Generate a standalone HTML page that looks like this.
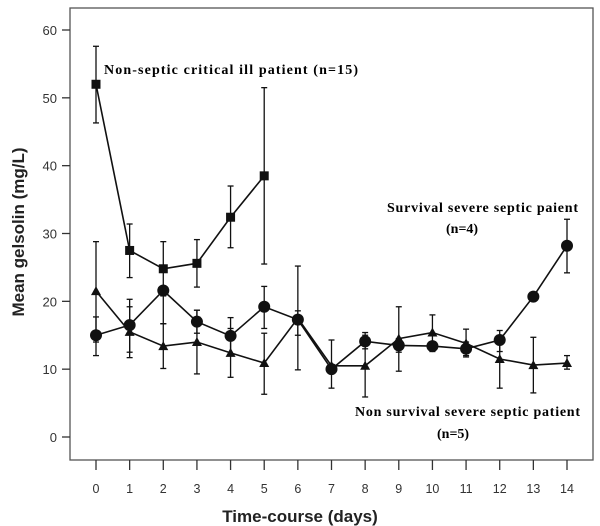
<!DOCTYPE html>
<html><head><meta charset="utf-8"><style>
body{margin:0;background:#fff;}
svg{display:block;font-family:"Liberation Sans",sans-serif;}
.ann{font-family:"Liberation Serif",serif;font-weight:bold;font-size:14px;}
</style></head><body>
<svg id="chart" width="600" height="526">
<rect x="70" y="8" width="523" height="452" fill="none" stroke="#555" stroke-width="1.3"/>
<g id="axes"></g><g id="series"></g>
<text x="300" y="522" text-anchor="middle" font-size="17" font-weight="bold" fill="#222">Time-course (days)</text>
<text transform="translate(24,232) rotate(-90)" text-anchor="middle" font-size="17" font-weight="bold" fill="#222">Mean gelsolin (mg/L)</text>
<text class="ann" x="104" y="74" textLength="254" lengthAdjust="spacing">Non-septic critical ill patient   (n=15)</text>
<text class="ann" x="387" y="212" textLength="191" lengthAdjust="spacing">Survival severe septic paient</text>
<text class="ann" x="446" y="233">(n=4)</text>
<text class="ann" x="355" y="416" textLength="225" lengthAdjust="spacing">Non survival severe septic patient</text>
<text class="ann" x="437" y="438">(n=5)</text>
</svg>
<script>
const days=[0,1,2,3,4,5,6,7,8,9,10,11,12,13,14];
const yTicks=[0,10,20,30,40,50,60];
const sqMean=[52,27.5,24.8,25.6,32.4,38.5];
const sqLow=[46.3,23.5,20.8,22.1,27.9,25.5];
const sqHigh=[57.6,31.4,28.8,29.1,37,51.5];
const ciMean=[15,16.5,21.6,17,14.9,19.2,17.3,10,14.1,13.5,13.4,13,14.3,20.7,28.2];
const ciLow=[12,12.5,16.7,15.3,12,16,15,null,13,12.5,12.6,12,12.6,null,24.2];
const ciHigh=[17.7,20.3,21.6,18.7,17.6,22.2,18.6,null,15,14.5,14,14,15.7,null,32.1];
const trMean=[21.5,15.5,13.4,14,12.4,10.9,17.5,10.5,10.5,14.5,15.4,13.8,11.5,10.6,10.9];
const trLow=[14,11.7,10.1,9.3,8.8,6.3,9.9,7.2,5.9,9.7,12.7,11.8,7.2,6.5,10];
const trHigh=[28.8,19.2,16.7,18.7,16,15.3,25.2,14.3,15.4,19.2,18,15.9,15,14.7,12];
const NS="http://www.w3.org/2000/svg";
const X=d=>96+d*(567-96)/14, Y=v=>437-v*(437-30)/60;
function mk(t,a,p){const e=document.createElementNS(NS,t);for(const k in a)e.setAttribute(k,a[k]);p.appendChild(e);return e;}
const ax=document.getElementById('axes'), sr=document.getElementById('series');
yTicks.forEach(v=>{
 const l=mk('line',{x1:62,x2:70,y1:Y(v),y2:Y(v),stroke:'#333','stroke-width':1.3},ax);
 
 
 const t=mk('text',{x:57,y:Y(v)+5,'text-anchor':'end','font-size':13,fill:'#333'},ax);t.textContent=v;
 
 
});
days.forEach(d=>{
 const l=mk('line',{x1:X(d),x2:X(d),y1:460,y2:470,stroke:'#333','stroke-width':1.3},ax);
 
 
 const t=mk('text',{x:X(d),y:493,'text-anchor':'middle','font-size':12.5,fill:'#333'},ax);t.textContent=d;
 
 
});
function series(name,mean,lo,hi,shape){
 const g=mk('g',{},sr);
 
 
 mean.forEach((m,i)=>{if(lo[i]==null)return;
  const x=X(i);
  mk('line',{x1:x,x2:x,y1:Y(lo[i]),y2:Y(hi[i]),stroke:'#111','stroke-width':1.3},g);
  mk('line',{x1:x-3,x2:x+3,y1:Y(lo[i]),y2:Y(lo[i]),stroke:'#111','stroke-width':1.3},g);
  mk('line',{x1:x-3,x2:x+3,y1:Y(hi[i]),y2:Y(hi[i]),stroke:'#111','stroke-width':1.3},g);
 });
 const p=mk('polyline',{points:mean.map((m,i)=>X(i)+','+Y(m)).join(' '),fill:'none',stroke:'#111','stroke-width':1.6},g);
 
 
 mean.forEach((m,i)=>{const x=X(i),y=Y(m);let e;
  if(shape==='sq')e=mk('rect',{x:x-4.5,y:y-4.5,width:9,height:9,fill:'#111'},g);
  else if(shape==='ci')e=mk('circle',{cx:x,cy:y,r:6,fill:'#111'},g);
  else e=mk('polygon',{points:`${x},${y-5} ${x-5},${y+4} ${x+5},${y+4}`,fill:'#111'},g);
  
  
 });
}
series('non-survival-series',trMean,trLow,trHigh,'tr');
series('survival-series',ciMean,ciLow,ciHigh,'ci');
series('non-septic-series',sqMean,sqLow,sqHigh,'sq');
</script>
</body></html>
